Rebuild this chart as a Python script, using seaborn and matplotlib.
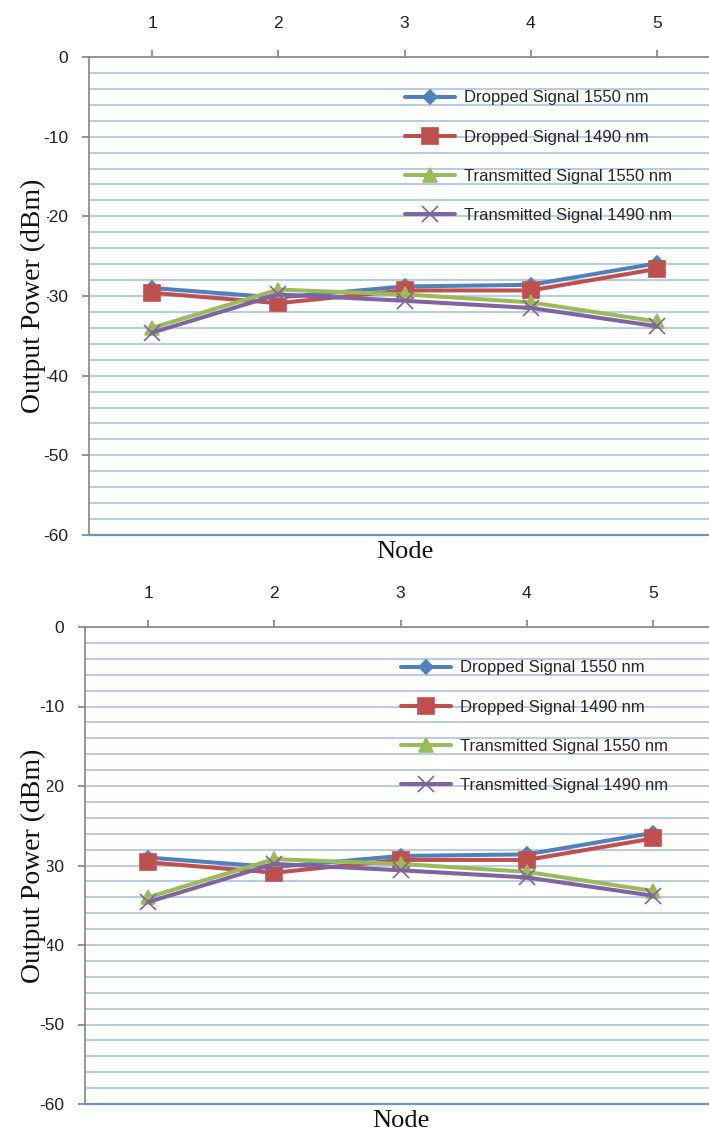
import numpy as np
import pandas as pd
import matplotlib
matplotlib.use("Agg")
import matplotlib.pyplot as plt
import seaborn as sns
from matplotlib.ticker import MultipleLocator

# Data (both panels show the same curves)
nodes = [1, 2, 3, 4, 5]
dropped_1550 = [-29.0, -30.2, -28.8, -28.6, -25.9]
dropped_1490 = [-29.6, -30.9, -29.3, -29.3, -26.6]
transmitted_1550 = [-34.0, -29.2, -29.8, -30.8, -33.2]
transmitted_1490 = [-34.6, -29.8, -30.6, -31.5, -33.8]

series_names = ["Dropped Signal 1550 nm", "Dropped Signal 1490 nm",
                "Transmitted Signal 1550 nm", "Transmitted Signal 1490 nm"]
series_values = [dropped_1550, dropped_1490, transmitted_1550, transmitted_1490]
y_ticks = [0, -10, -20, -30, -40, -50, -60]

colors = ["#4F81BD", "#C0504D", "#9BBB59", "#8064A2"]
markers = ["D", "s", "^", "x"]
msizes = [7, 11, 10, 11]

df = pd.concat([pd.DataFrame({"Node": nodes, "Power": v, "Series": n})
                for n, v in zip(series_names, series_values)], ignore_index=True)

sns.set_theme(style="white")
plt.rcParams["font.family"] = ["Liberation Sans", "DejaVu Sans"]

fig = plt.figure(figsize=(7.09, 11.31), dpi=100)
W, H = 709, 1131
# (left, top, bottom) of each plot area, in pixels
panels = [(89, 57, 535), (85, 627, 1104)]
span = 631

for left, top, bottom in panels:
    ax = fig.add_axes([left / W, 1 - bottom / H, span / W, (bottom - top) / H])
    for name, col, mk, ms in zip(series_names, colors, markers, msizes):
        sub = df[df["Series"] == name]
        sns.lineplot(data=sub, x="Node", y="Power", color=col, marker=mk,
                     markersize=ms, markeredgecolor=col, markeredgewidth=1.2,
                     linewidth=2.9, label=name, ax=ax, sort=False)

    ax.set_xlim(0.5, 5.5)
    ax.set_ylim(-60, 0)
    ax.set_xticks(nodes)
    ax.set_xticklabels([str(n) for n in nodes])
    ax.set_yticks(y_ticks)
    ax.set_yticklabels([str(t) for t in y_ticks])
    ax.yaxis.set_minor_locator(MultipleLocator(2))
    ax.grid(axis="y", which="both", color="#B2C7E3", linewidth=1.3)
    ax.set_axisbelow(True)

    ax.xaxis.tick_top()
    ax.tick_params(axis="x", which="major", top=True, bottom=False, length=5,
                   color="#868686", pad=14, labelsize=12.5, labelcolor="#222222")
    ax.tick_params(axis="y", which="major", left=True, length=5, color="#868686",
                   pad=10, labelsize=12.5, labelcolor="#222222")
    ax.tick_params(axis="y", which="minor", left=False)

    ax.spines["right"].set_visible(False)
    for s in ["top", "left"]:
        ax.spines[s].set_color("#868686")
        ax.spines[s].set_linewidth(1.2)
    ax.spines["bottom"].set_color("#6F93C6")
    ax.spines["bottom"].set_linewidth(1.6)

    ax.xaxis.set_label_position("bottom")
    ax.set_xlabel("Node", family="Liberation Serif", fontsize=19, labelpad=4,
                  color="#111111")
    # label sits over the tick labels, as in the original figure
    ax.set_ylabel("Output Power (dBm)", family="Liberation Serif", fontsize=20,
                  color="#111111",
                  bbox=dict(facecolor="white", edgecolor="none", pad=1))
    ax.yaxis.set_label_coords((46 - left) / span, 0.5)

    handles, labels = ax.get_legend_handles_labels()
    ax.legend(handles, labels, loc="upper left", bbox_to_anchor=(0.5, 0.93),
              frameon=False, fontsize=12, labelspacing=1.45, handlelength=3.0,
              handletextpad=0.6, borderaxespad=0, borderpad=0)

fig.savefig("out.png", dpi=100)
